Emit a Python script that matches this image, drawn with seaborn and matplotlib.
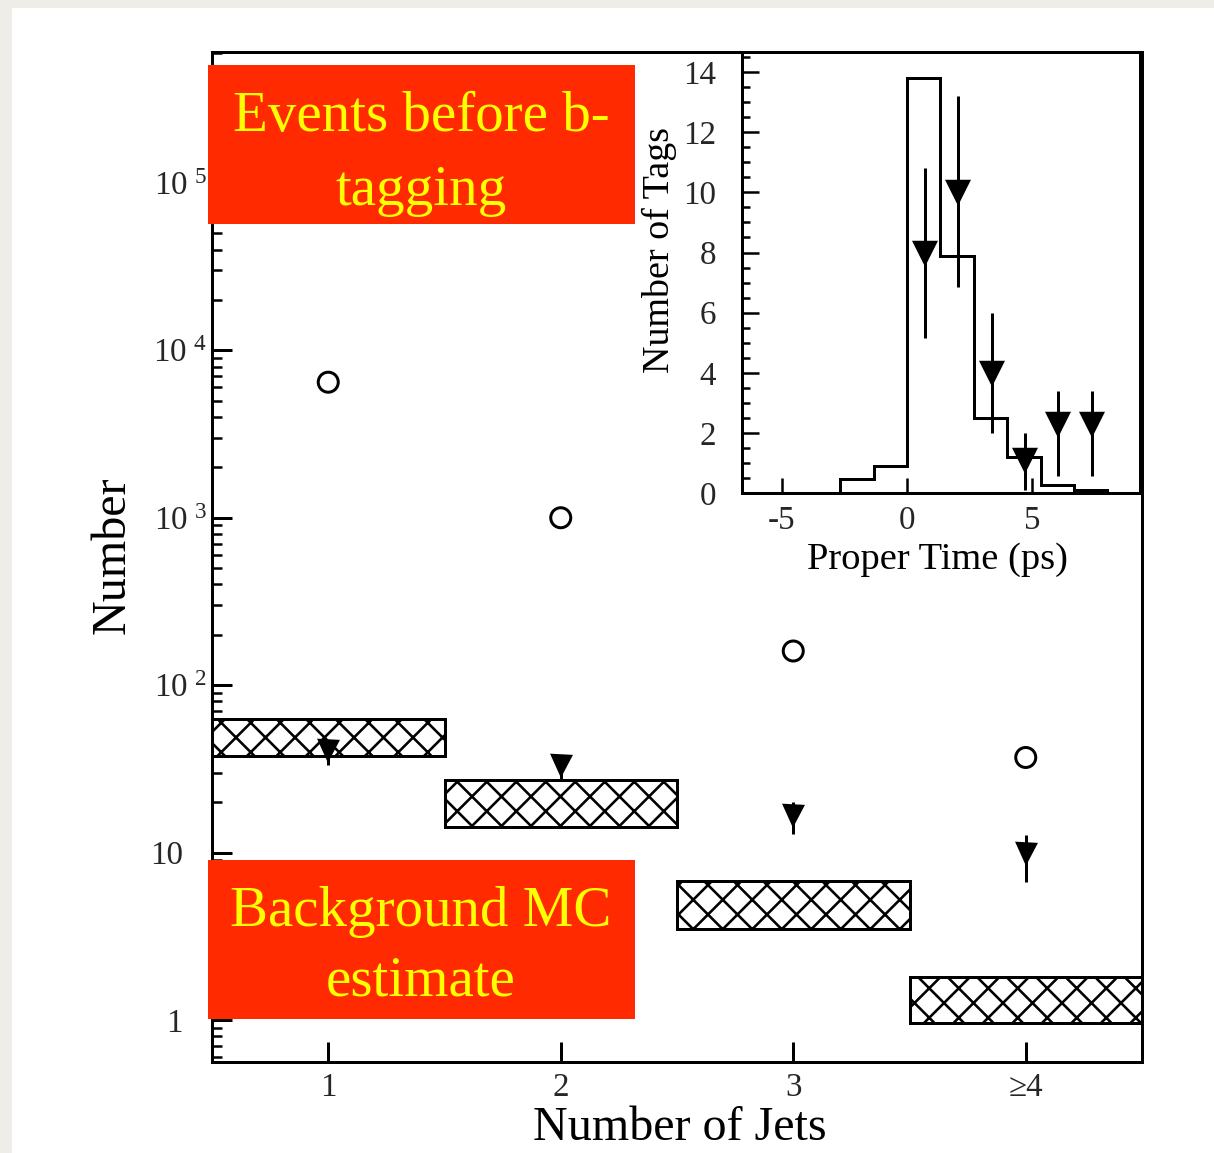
import numpy as np
import matplotlib
matplotlib.use('Agg')
import matplotlib.pyplot as plt
import seaborn as sns
from matplotlib.patches import Rectangle
from matplotlib.transforms import ScaledTranslation
from matplotlib.ticker import FixedLocator, FixedFormatter, LogLocator, NullFormatter, MultipleLocator

# ---------------- data ----------------
jets = [1, 2, 3, 4]
jet_labels = ['1', '2', '3', '≥4']
events_before = [6450, 1000, 160, 37]
tagged = [41, 33.4, 16.8, 10.0]
tagged_lo = [33.5, 27, 12.9, 6.7]
tagged_hi = [47, 37, 20, 12.8]
bkg_lo = [37.6, 14.3, 3.5, 0.96]
bkg_hi = [62.5, 27.0, 6.8, 1.8]

pt_edges = [-2.67, -1.33, 0.0, 1.33, 2.67, 4.0, 5.33, 6.67, 8.0]
pt_mc = [0.45, 0.9, 13.8, 7.9, 2.5, 1.2, 0.25, 0.1]
pt_x = [0.73, 2.04, 3.4, 4.7, 6.04, 7.37]
pt_y = [8.0, 10.0, 4.0, 1.1, 2.3, 2.3]
pt_lo = [5.15, 6.85, 2.0, 0.1, 0.57, 0.57]
pt_hi = [10.8, 13.2, 6.0, 2.0, 3.4, 3.4]

ytick_vals = [1, 10, 100, 1e3, 1e4, 1e5]
ytick_text = ['1', '10',
              r'$\mathregular{10^{\ 2}}$', r'$\mathregular{10^{\ 3}}$',
              r'$\mathregular{10^{\ 4}}$', r'$\mathregular{10^{\ 5}}$']
inset_xticks = [-5, 0, 5]
inset_xtick_text = ['-5', '0', '5']

box1_lines = ['Events before b-', 'tagging']
box2_lines = ['Background MC', 'estimate']

# ---------------- style ----------------
DPI = 177
W, H = 1214, 1153


def P(px):
    return px * 72.0 / DPI


sns.set_theme(style='white')
plt.rcParams['font.family'] = ['Liberation Serif', 'DejaVu Serif']
plt.rcParams['mathtext.fontset'] = 'custom'
plt.rcParams['mathtext.rm'] = 'Liberation Serif'
plt.rcParams['axes.unicode_minus'] = False
plt.rcParams['hatch.linewidth'] = P(2.6)
plt.rcParams['axes.edgecolor'] = 'black'

fig = plt.figure(figsize=(W / DPI, H / DPI), dpi=DPI, facecolor='#efede8')
fig.add_artist(Rectangle((12 / W, 0), 1 - 12 / W, 1 - 8 / H, transform=fig.transFigure,
                         facecolor='white', edgecolor='none', zorder=-10))

# ---------------- main axes ----------------
ax = fig.add_axes([212 / W, 1 - 1062 / H, 930 / W, 1010 / H])
ax.set_facecolor('white')
ax.set_yscale('log')
ax.set_xlim(0.5, 4.5)
ax.set_ylim(0.5615, 6.05e5)

ax.bar(jets, np.array(bkg_hi) - np.array(bkg_lo), bottom=bkg_lo, width=1.0,
       facecolor='white', edgecolor='black', hatch='xx', linewidth=P(3), zorder=2)

sns.scatterplot(x=jets, y=events_before, marker='o', s=P(20) ** 2, facecolors='none',
                edgecolor='black', linewidth=P(3), ax=ax, zorder=3)

ax.errorbar(jets, tagged,
            yerr=[np.array(tagged) - np.array(tagged_lo), np.array(tagged_hi) - np.array(tagged)],
            fmt='v', color='black', ms=P(19), elinewidth=P(3), capsize=0, zorder=4)

ax.set_xticks(jets)
ax.set_xticklabels(jet_labels)
ax.yaxis.set_major_locator(FixedLocator(ytick_vals))
ax.yaxis.set_major_formatter(FixedFormatter(ytick_text))
ax.yaxis.set_minor_locator(LogLocator(base=10, subs=np.arange(2, 10), numticks=30))
ax.yaxis.set_minor_formatter(NullFormatter())
ax.tick_params(axis='x', which='major', direction='in', length=P(20), width=P(3),
               labelsize=P(33), pad=P(10), top=False, bottom=True, color='black')
ax.tick_params(axis='x', which='minor', bottom=False, top=False)
ax.tick_params(axis='y', which='major', direction='in', length=P(20), width=P(3),
               labelsize=P(33), pad=P(5), left=True, right=False, color='black')
ax.tick_params(axis='y', which='minor', direction='in', length=P(10), width=P(2.5),
               left=True, right=False, color='black')
for s in ax.spines.values():
    s.set_linewidth(P(3))
    s.set_color('black')
ax.set_xlabel('Number of Jets', fontsize=P(48), color='black')
ax.set_ylabel('Number', fontsize=P(48), color='black')
ax.xaxis.set_label_coords(0.503, -0.044)
ax.yaxis.set_label_coords(-0.083, 0.502)

# shift the labels without exponent so that their "10" lines up with the others
ylabels = ax.yaxis.get_majorticklabels()
for lab in ylabels[:2]:
    lab.set_transform(lab.get_transform() + ScaledTranslation(-24 / DPI, 0, fig.dpi_scale_trans))

# ---------------- inset ----------------
axi = fig.add_axes([742 / W, 1 - 493 / H, 398 / W, 441 / H])
axi.set_facecolor('white')
axi.set_xlim(-6.6, 9.3)
axi.set_ylim(0, 14.67)
axi.stairs(pt_mc, pt_edges, color='black', linewidth=P(3), baseline=0)
axi.errorbar(pt_x, pt_y,
             yerr=[np.array(pt_y) - np.array(pt_lo), np.array(pt_hi) - np.array(pt_y)],
             fmt='v', color='black', ms=P(22), elinewidth=P(3), capsize=0, zorder=4)
axi.set_xticks(inset_xticks)
axi.set_xticklabels(inset_xtick_text)
axi.yaxis.set_major_locator(MultipleLocator(2))
axi.yaxis.set_minor_locator(MultipleLocator(0.5))
axi.tick_params(axis='x', which='major', direction='in', length=P(15), width=P(2.5),
                labelsize=P(33), pad=P(12), top=False, bottom=True, color='black')
axi.tick_params(axis='y', which='major', direction='in', length=P(17), width=P(2.5),
                labelsize=P(33), pad=P(26), left=True, right=False, color='black')
axi.tick_params(axis='y', which='minor', direction='in', length=P(8), width=P(2.5),
                left=True, right=False, color='black')
for s in axi.spines.values():
    s.set_linewidth(P(3))
    s.set_color('black')
axi.set_xlabel('Proper Time (ps)', fontsize=P(38.5), color='black')
axi.set_ylabel('Number of Tags', fontsize=P(38), color='black')
axi.xaxis.set_label_coords(0.49, -0.112)
axi.yaxis.set_label_coords(-0.163, 0.551)

# ---------------- red annotation boxes ----------------
red = '#ff2a00'
yellow = '#ffff00'
fig.add_artist(Rectangle((208 / W, 1 - 224 / H), 427 / W, 159 / H, transform=fig.transFigure,
                         facecolor=red, edgecolor='none', zorder=20))
fig.add_artist(Rectangle((208 / W, 1 - 1019 / H), 427 / W, 159 / H, transform=fig.transFigure,
                         facecolor=red, edgecolor='none', zorder=20))
for txt, yb in zip(box1_lines, [131, 205]):
    fig.text(421 / W, 1 - yb / H, txt, ha='center', va='baseline', color=yellow,
             fontsize=P(57), zorder=21)
for txt, yb in zip(box2_lines, [926, 995]):
    fig.text(421 / W, 1 - yb / H, txt, ha='center', va='baseline', color=yellow,
             fontsize=P(57), zorder=21)

fig.savefig('out.png', dpi=DPI, facecolor=fig.get_facecolor())
